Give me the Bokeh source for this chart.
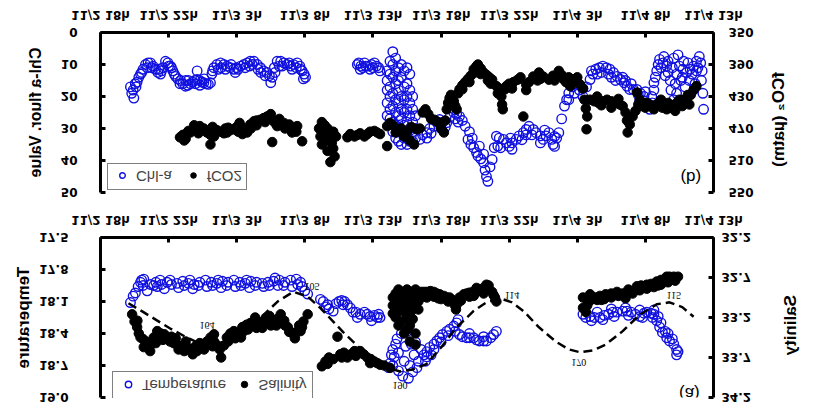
import math
from bokeh.plotting import figure
from bokeh.models import (Range1d, LinearAxis, FixedTicker, Legend, LegendItem,
                          ColumnDataSource, InlineStyleSheet, Label, NumeralTickFormatter)
from bokeh.layouts import column, row
from bokeh.embed import file_html
from bokeh.resources import INLINE
from bokeh.core.properties import value

# ---------------- data (hours since 11/2 18h) ----------------
x_ticks = [0, 4.8, 9.6, 14.4, 19.2, 24.0, 28.8, 33.6, 38.4, 43.2]
x_tick_labels = ["11/2 18h", "11/2 22h", "11/3 3h", "11/3 8h", "11/3 13h",
                 "11/3 18h", "11/3 22h", "11/4 3h", "11/4 8h", "11/4 13h"]
temp_ticks = [17.5, 17.8, 18.1, 18.4, 18.7, 19.0]
sal_ticks = [32.2, 32.7, 33.2, 33.7, 34.2]
chl_ticks = [0, 10, 20, 30, 40, 50]
fco2_ticks = [350, 390, 430, 470, 510, 550]

temp_pts = [(2.11,18.11),(2.3,18.05),(2.46,18.02),(2.65,17.96),(2.82,17.92),(3.0,17.95),(3.05,17.89),(3.29,18.0),(3.52,17.94),(3.75,17.95),(4.0,17.96),(4.3,17.94),(4.5,17.98),(4.7,17.92),(5.0,17.94),(5.4,17.93),(5.5,17.97),(5.8,17.91),(6.2,17.93),(6.5,17.98),(6.6,17.94),(7.0,17.92),(7.4,17.9),(7.5,17.96),(7.8,17.92),(8.2,17.93),(8.5,17.97),(8.6,17.91),(9.0,17.92),(9.4,17.9),(9.5,17.96),(9.8,17.92),(10.2,17.93),(10.5,17.97),(10.6,17.91),(11.0,17.92),(11.4,17.93),(11.5,17.96),(11.8,17.92),(12.2,17.91),(12.5,17.95),(12.6,17.9),(13.0,17.92),(13.4,17.9),(13.5,17.96),(13.8,17.89),(14.1,17.92),(14.2,17.96),(14.4,18.0),(14.6,18.03),
    (2.9,17.9),(3.9,17.92),(4.9,17.9),(5.9,17.95),(6.9,17.95),(7.9,17.95),(8.9,17.95),(9.9,17.95),(10.9,17.95),(11.9,17.95),(12.9,17.95),(13.9,17.94),(4.2,17.9),(6.3,17.9),(8.3,17.9),(10.3,17.9),(12.3,17.88),
    (15.5,18.08),(15.7,18.1),(15.9,18.15),(16.0,18.13),(16.1,18.17),(16.4,18.19),(16.6,18.12),(16.8,18.1),(17.0,18.09),(17.1,18.13),(17.2,18.1),(17.4,18.13),(17.6,18.16),(17.8,18.2),(18.0,18.2),(18.1,18.25),(18.3,18.22),(18.6,18.2),(18.8,18.22),(19.0,18.24),(19.1,18.28),(19.3,18.23),(19.5,18.25),(19.6,18.22),(19.7,18.25),
    (20.3,18.72),(20.4,18.68),(20.5,18.6),(20.6,18.55),(20.6,18.7),(20.7,18.62),(20.8,18.5),(20.9,18.45),(21.0,18.58),(21.0,18.75),(21.2,18.4),(21.3,18.8),(21.4,18.66),(21.5,18.52),(21.6,18.38),(21.7,18.82),(21.8,18.7),(21.9,18.5),(22.0,18.76),(22.1,18.6),(22.2,18.48),(22.3,18.72),(22.4,18.66),(22.6,18.55),(22.8,18.6),(22.9,18.66),
    (23.0,18.57),(23.0,18.62),(23.2,18.53),(23.3,18.6),(23.5,18.5),(23.5,18.55),(23.7,18.47),(23.9,18.44),(24.0,18.48),(24.1,18.41),(24.4,18.38),(24.5,18.42),(24.6,18.36),(24.9,18.33),(25.0,18.38),(25.1,18.3),(25.2,18.27),(25.3,18.41),(25.5,18.43),(25.8,18.44),(26.0,18.44),(26.0,18.4),(26.3,18.44),(26.5,18.46),(26.7,18.47),(27.0,18.47),(27.0,18.43),(27.2,18.47),(27.5,18.44),(27.7,18.41),(27.9,18.38),
    (34.0,18.22),(34.2,18.25),(34.5,18.24),(34.6,18.28),(34.8,18.25),(35.0,18.2),(35.2,18.25),(35.4,18.27),(35.5,18.23),(35.8,18.22),(36.0,18.17),(36.1,18.2),(36.2,18.24),(36.4,18.2),(36.8,18.19),(37.0,18.16),(37.1,18.19),(37.2,18.23),(37.4,18.2),(37.7,18.22),(38.0,18.24),(38.0,18.18),(38.2,18.25),(38.3,18.21),(38.5,18.2),(38.8,18.21),(38.9,18.25),(39.0,18.22),(39.0,18.18),(39.2,18.28),(39.3,18.24),(39.4,18.34),(39.5,18.3),(39.6,18.39),(39.8,18.38),(39.9,18.44),(40.0,18.4),(40.1,18.47),(40.3,18.45),(40.4,18.5),(40.6,18.55),(40.6,18.6),(40.7,18.57)]

sal_pts = [(2.23,33.16),(2.4,33.25),(2.58,33.32),(2.6,33.24),(2.7,33.4),(2.82,33.45),(3.0,33.47),(3.05,33.57),(3.2,33.5),(3.3,33.56),(3.5,33.62),(3.52,33.54),(3.75,33.45),(3.9,33.52),(4.0,33.37),(4.0,33.47),(4.25,33.4),(4.4,33.48),(4.5,33.41),(4.7,33.46),(4.9,33.5),(5.0,33.44),(5.15,33.52),(5.3,33.46),(5.4,33.54),(5.5,33.6),(5.7,33.56),(5.9,33.62),(6.0,33.5),(6.1,33.57),(6.4,33.6),(6.5,33.66),(6.7,33.56),(6.8,33.62),(7.0,33.52),(7.1,33.58),(7.3,33.6),(7.5,33.5),(7.75,33.45),(7.9,33.56),(8.0,33.41),(8.0,33.5),(8.25,33.55),(8.4,33.6),(8.5,33.7),(8.7,33.55),(8.9,33.45),(9.0,33.5),(9.15,33.4),(9.3,33.42),(9.4,33.37),(9.5,33.46),(9.65,33.41),(9.8,33.38),(9.9,33.45),(10.0,33.32),(10.1,33.37),(10.3,33.29),(10.4,33.35),(10.55,33.27),(10.8,33.25),(10.9,33.2),(11.0,33.33),(11.05,33.27),(11.3,33.29),(11.4,33.33),(11.5,33.24),(11.7,33.2),(11.9,33.18),(11.95,33.24),(12.0,33.3),(12.2,33.29),(12.4,33.3),(12.45,33.22),(12.7,33.16),(12.8,33.24),(12.95,33.24),(13.0,33.3),(13.2,33.32),(13.3,33.38),(13.4,33.38),(13.6,33.41),(13.7,33.46),(13.85,33.38),(14.0,33.3),(14.1,33.37),(14.2,33.32),(14.3,33.25),(14.6,33.16),
    (15.6,33.81),(15.85,33.75),(16.0,33.78),(16.1,33.7),(16.4,33.72),(16.7,33.44),(16.9,33.66),(17.0,33.7),(17.15,33.64),(17.4,33.7),(17.65,33.66),(17.9,33.62),(18.0,33.68),(18.1,33.63),(18.3,33.62),(18.55,33.66),(18.8,33.7),(19.0,33.77),(19.05,33.72),(19.3,33.75),(19.5,33.77),(19.7,33.79),(20.0,33.8),(20.4,33.83),
    (20.6,32.95),(20.6,33.05),(20.6,33.15),(20.8,32.9),(20.8,33.0),(20.8,33.1),(20.8,33.2),(21.0,32.85),(21.0,32.95),(21.0,33.05),(21.0,33.3),(21.2,32.9),(21.2,33.0),(21.2,33.12),(21.2,33.25),(21.4,32.88),(21.4,32.98),(21.4,33.1),(21.4,33.4),(21.6,32.85),(21.6,32.95),(21.6,33.05),(21.6,33.2),(21.6,33.35),(21.8,32.9),(21.8,33.0),(21.8,33.15),(21.8,33.3),(21.8,33.5),(22.0,32.88),(22.0,33.0),(22.0,33.1),(22.0,33.22),(22.2,32.85),(22.2,32.95),(22.2,33.05),(22.2,33.4),(22.2,33.54),(22.4,32.9),(22.4,33.0),(22.4,33.1),(22.6,32.88),(22.6,32.95),
    (22.8,32.88),(23.0,32.88),(23.0,32.95),(23.25,32.87),(23.5,32.88),(23.5,32.94),(23.7,32.9),(23.8,32.96),(23.9,32.91),(24.0,32.97),(24.2,32.93),(24.4,32.95),(24.5,33.0),(24.6,32.95),(24.8,32.98),(24.95,33.04),(25.0,33.0),(25.05,33.1),(25.1,33.04),(25.3,32.95),(25.4,32.99),(25.6,32.91),(25.8,32.9),(26.0,32.89),(26.0,32.94),(26.25,32.88),(26.3,32.93),(26.5,32.88),(26.5,32.83),(26.75,32.85),(27.0,32.83),(27.0,32.9),(27.1,32.86),(27.2,32.79),(27.35,32.8),(27.6,32.88),(27.7,32.92),(27.8,32.95),(27.9,33.0),
    (34.0,32.95),(34.0,33.08),(34.2,33.13),(34.3,33.05),(34.4,33.0),(34.5,32.91),(34.5,32.99),(34.7,32.95),(34.9,32.95),(35.0,32.98),(35.2,32.93),(35.3,32.98),(35.5,32.97),(35.6,32.91),(36.0,32.9),(36.0,32.95),(36.2,32.92),(36.4,32.88),(36.5,32.93),(36.8,32.9),(37.0,32.96),(37.1,32.91),(37.2,32.85),(37.4,32.87),(37.5,32.9),(37.8,32.81),(38.0,32.86),(38.1,32.8),(38.3,32.83),(38.5,32.79),(38.5,32.84),(38.8,32.78),(39.0,32.82),(39.2,32.75),(39.3,32.8),(39.5,32.73),(39.5,32.79),(39.9,32.69),(40.0,32.76),(40.1,32.69),(40.3,32.72),(40.4,32.69),(40.5,32.74),(40.7,32.69)]

tide_pts = [(1.97,119),(3.0,128),(4.0,137),(5.0,146),(6.0,154),(7.0,161),(7.8,164),(8.8,161),(9.8,152),(10.7,140),(11.5,131),(12.5,117),(13.6,107),(14.6,112),(15.5,124),(16.4,138),(17.1,149),(17.8,159),(18.8,173),(19.8,184),(21.1,190),(22.0,188),(23.0,182),(24.0,165),(25.1,144),(26.3,127),(27.2,118),(28.2,114),(29.0,118),(29.8,127),(30.9,144),(32.1,159),(33.0,167),(33.8,170),(34.7,168),(35.6,162),(36.8,148),(38.0,131),(39.2,120),(40.1,118),(41.0,123),(41.8,133)]
tide_labels = [(7.5,142,"164"),(14.9,101.5,"105"),(21.1,204.6,"190"),(29.0,111,"114"),(33.7,180.7,"170"),(40.4,111,"115")]

chl_pts = [(2.11,17),(2.2,19),(2.3,18),(2.35,20.5),(2.45,16),(2.5,17),(2.58,15.5),(2.7,14),(2.82,13),(2.9,12.5),(3.0,11.5),(3.17,10),(3.3,11),(3.35,9.5),(3.52,9.5),(3.6,11),(3.7,10.5),(3.88,11.5),(4.05,12.5),(4.1,11.5),(4.23,13),(4.3,12),(4.4,11),(4.58,9),(4.75,9.5),(4.8,10.5),(4.93,10.5),(5.0,11),(5.1,12),(5.2,13),(5.29,13.7),(5.45,14.5),(5.6,16),(5.64,15),(5.8,16),(5.99,16.8),(6.0,15),(6.15,16.5),(6.2,15),(6.34,16),(6.5,15.5),(6.65,15),(6.7,16),(6.81,14.7),(6.81,12),(7.0,15),(7.0,16.5),(7.15,15.5),(7.28,15.7),(7.3,14.5),(7.45,16),(7.6,16.2),(7.75,15.7),(7.85,13),(7.9,12),(7.99,11),(8.2,10),(8.3,11.5),(8.46,9.5),(8.5,11),(8.7,10),(8.8,11.5),(8.93,10.5),(9.15,11),(9.2,10),(9.4,11.5),(9.5,12.5),(9.6,11),(9.7,11.5),(9.87,10.5),(10.1,10),(10.2,11),(10.34,9.5),(10.5,10.5),(10.55,9),(10.7,10),(10.81,9),(11.05,10),(11.1,11.5),(11.27,11),(11.3,12.5),(11.5,12),(11.6,13.5),(11.74,12.5),(11.9,13.5),(12.0,15.7),(12.1,14),(12.25,11),(12.3,12.5),(12.45,9),(12.6,10.5),(12.7,9),(12.8,10.5),(12.92,9.5),(13.15,10),(13.3,9.5),(13.39,10.5),(13.5,11.5),(13.6,10),(13.8,11),(13.86,9.5),(14.05,10.5),(14.1,11.5),(14.21,12),(14.3,14.5),(14.35,13),(14.45,14),
    (18.1,10),(18.2,9.5),(18.3,11.5),(18.35,10.5),(18.5,11),(18.6,9.5),(18.7,10.5),(18.9,10.5),(19.0,11.5),(19.1,10),(19.2,11),(19.3,9.5),(19.45,10.5),(19.6,11),(19.7,12),
    (20.2,12),(20.2,15),(20.2,18),(20.2,22),(20.2,26),(20.4,9),(20.4,13),(20.4,17),(20.4,20),(20.4,24),(20.4,27),(20.6,6),(20.6,10),(20.6,14),(20.6,19),(20.6,23),(20.6,28),(20.6,31),(20.8,8),(20.8,12),(20.8,16),(20.8,21),(20.8,25),(20.8,29),(20.8,33),(21.0,11),(21.0,15),(21.0,18),(21.0,22),(21.0,26),(21.0,30),(21.0,34),(21.2,10),(21.2,14),(21.2,20),(21.2,24),(21.2,27),(21.2,31),(21.2,35),(21.4,12),(21.4,17),(21.4,21),(21.4,25),(21.4,29),(21.4,33),(21.6,11),(21.6,16),(21.6,20),(21.6,24),(21.6,28),(21.6,32),(21.6,35),(21.8,13),(21.8,18),(21.8,22),(21.8,26),(21.8,30),(21.8,34),(22.0,20),(22.0,24),(22.0,28),(22.0,31),(22.0,34),(22.2,26),(22.2,30),(22.2,33),
    (22.5,33.4),(22.7,32),(23.0,31.3),(23.0,33),(23.2,30),(23.3,31.5),(23.5,29.3),(23.7,28),(23.9,27.2),(24.0,30),(24.1,28),(24.3,29.5),(24.4,28.2),(24.6,26.5),(24.9,25),(25.0,27),(25.1,25.5),(25.2,28),(25.3,26.2),(25.5,27.5),(25.7,29.3),(25.9,33.4),(26.0,31),(26.1,35),(26.2,33),(26.3,36),(26.5,37.5),(26.6,38.6),(26.7,35.5),(26.8,39.5),(27.0,40.7),(27.0,38),(27.1,43),(27.2,45),(27.3,46.5),(27.45,42),(27.6,39.7),(27.75,36),(27.9,32.4),(28.0,35.5),(28.1,33),(28.2,36),(28.4,33.4),(28.6,34.5),(28.8,35.6),(28.9,33),(29.0,34.5),(29.0,36.5),(29.3,33.4),(29.5,32.3),(29.7,33.5),(29.8,31.3),(30.0,30.3),(30.0,32),(30.2,29.3),(30.4,32),(30.5,30.3),(30.7,31.3),(31.0,32.3),(31.0,34.5),(31.2,33.4),(31.3,30.5),(31.4,32.3),(31.6,31.3),(31.8,33.4),(31.9,35),(32.0,35.6),(32.0,32.5),(32.15,33),(32.3,31.3),(32.5,27),(32.7,23),(32.85,21),(33.0,18.9),(33.0,21),(33.1,16.5),(33.25,17),(33.4,19),(33.5,15.7),(33.75,18),(34.0,20),(34.0,17.5),(34.25,17),(34.5,14.7),(34.6,12),(34.7,13),(34.9,11.5),(35.0,13),(35.15,11),(35.3,12.5),(35.4,10.5),(35.65,11),(35.8,13),(35.9,11.5),(36.0,14),(36.15,12.5),(36.3,15),(36.4,13.7),(36.65,14.7),(36.8,14),(36.9,15.7),(37.0,15),(37.1,16.8),(37.3,17.8),(37.4,16),(37.55,17.8),(37.8,17.8),(37.9,19.5),(38.0,21.5),(38.05,19),(38.3,20),(38.4,18.5),(38.5,22),(38.7,24),(38.85,20),(38.9,22),(39.0,15.7),(39.0,18),(39.1,14),(39.2,12),(39.3,10),(39.4,8.4),(39.5,11),(39.65,9.5),(39.7,7.5),(39.8,13.5),(39.9,10.5),(40.0,12.5),(40.0,9),(40.15,15),(40.2,18),(40.3,11),(40.4,21),(40.4,8),(40.5,16),(40.6,13),(40.6,19),(40.7,7),(40.8,10.5),(40.9,15),(41.0,14),(41.05,11.5),(41.1,9),(41.2,17),(41.3,12.5),(41.4,9.5),(41.5,15),(41.55,11.5),(41.7,13),(41.8,10.5),(41.9,16),(42.0,9),(42.0,12),(42.1,11),(42.2,7.5),(42.3,9.5),(42.35,15),(42.4,12),(42.45,19),(42.5,24)]

fco2_pts = [(5.6,481),(5.8,478),(5.9,485),(6.0,477),(6.0,483),(6.2,473),(6.34,475),(6.5,471),(6.6,466),(6.81,469),(6.9,476),(7.0,467),(7.0,473),(7.28,470),(7.5,475),(7.75,478),(7.75,490),(7.9,468),(8.0,474),(8.0,480),(8.2,472),(8.46,474),(8.7,476),(8.8,470),(8.93,475),(9.0,469),(9.15,472),(9.4,471),(9.6,468),(9.7,474),(9.8,463),(9.87,467),(10.0,477),(10.1,472),(10.34,475),(10.55,465),(10.6,470),(10.81,461),(11.0,460),(11.0,466),(11.27,459),(11.5,457),(11.6,462),(11.74,455),(11.9,458),(12.0,452),(12.1,459),(12.1,487),(12.3,463),(12.45,467),(12.6,458),(12.7,464),(12.92,463),(13.0,470),(13.15,468),(13.3,465),(13.39,471),(13.5,475),(13.6,469),(13.8,474),(13.86,467),(14.21,486),
    (15.4,470),(15.5,480),(15.6,490),(15.6,462),(15.7,475),(15.8,466),(15.9,485),(16.0,498),(16.0,470),(16.1,478),(16.2,512),(16.3,488),(16.4,495),(16.4,474),(16.5,505),(16.6,480),
    (17.4,481),(17.6,477),(17.9,480),(18.1,478),(18.3,476),(18.6,480),(18.8,477),(19.0,474),(19.3,473),(19.5,475),(19.7,477),(20.2,467),(20.2,492),(20.4,463),(20.6,466),(20.8,475),(21.0,471),(21.2,470),(21.4,480),(21.6,474),(21.8,485),(21.9,468),(22.1,490),(22.3,471),(22.5,470),
    (22.7,450),(22.9,446),(23.1,452),(23.3,458),(23.5,459),(23.7,461),(23.9,463),(24.0,470),(24.2,475),(24.3,460),(24.4,446),(24.5,438),(24.6,432),(24.7,428),(24.9,436),(25.0,442),(25.1,446),(25.2,426),(25.3,421),(25.5,416),(25.5,421),(25.7,412),(25.9,408),(26.0,412),(26.1,404),(26.3,396),(26.4,400),(26.5,392),(26.6,390),(26.8,395),(26.8,402),(27.0,400),(27.2,403),(27.3,410),(27.4,406),(27.5,414),(27.6,409),(27.9,417),(28.0,426),(28.1,420),(28.25,430),(28.3,440),(28.35,446),(28.5,421),(28.6,417),(28.8,414),(29.0,420),(29.1,412),(29.4,409),(29.6,406),(29.8,455),(30.0,415),(30.0,422),(30.2,412),(30.5,405),(30.8,410),(30.9,400),(31.0,408),(31.2,405),(31.6,409),(31.9,404),(32.0,410),(32.3,398),(32.5,403),(32.6,408),(32.8,412),(33.0,406),(33.1,417),(33.4,412),(33.6,406),(33.8,415),(34.0,420),(34.1,434),(34.2,445),(34.25,471),(34.3,455),(34.5,434),(34.8,436),(35.0,430),(35.1,438),(35.3,441),(35.4,436),(35.7,434),(36.0,436),(36.0,444),(36.3,438),(36.5,433),(36.6,440),(36.8,442),(37.0,450),(37.1,460),(37.15,475),(37.3,465),(37.5,455),(37.7,448),(37.8,425),(37.9,440),(38.0,434),(38.1,442),(38.3,440),(38.4,444),(38.5,438),(38.7,440),(38.9,442),(39.0,446),(39.2,440),(39.4,438),(39.5,434),(39.6,444),(39.9,446),(40.0,438),(40.2,444),(40.4,442),(40.5,448),(40.6,438),(40.8,434),(41.0,442),(41.1,434),(41.3,434),(41.4,428),(41.5,440),(41.6,428),(41.8,422),(42.0,417)]

BLUE = "#1010e0"

def src(pts):
    return ColumnDataSource(dict(x=[p[0] for p in pts], y=[p[1] for p in pts]))

def style_axis(ax, standoff, title_standoff, title_size):
    ax.axis_line_width = 3
    ax.axis_line_color = "black"
    ax.major_tick_line_width = 3
    ax.major_tick_in = 5
    ax.major_tick_out = 0
    ax.minor_tick_line_color = None
    ax.major_label_text_font = "DejaVu Sans"
    ax.major_label_text_font_style = "bold"
    ax.major_label_text_font_size = "12px"
    ax.major_label_text_color = "black"
    ax.major_label_standoff = standoff
    ax.axis_label_text_font = "Liberation Sans"
    ax.axis_label_text_font_style = "bold"
    ax.axis_label_text_font_size = f"{title_size}px"
    ax.axis_label_text_color = "black"
    ax.axis_label_standoff = title_standoff

MAIN_W = 760   # main figure width; the right-hand axis titles sit in a strip beside it
STRIP_W = 816 - MAIN_W

def base_fig(height, top, bottom, yr):
    p = figure(width=MAIN_W, height=height, x_range=Range1d(0, 43.2), y_range=yr,
               output_backend="svg", toolbar_location=None,
               min_border_left=100, min_border_right=MAIN_W - 713,
               min_border_top=top, min_border_bottom=bottom)
    p.xgrid.visible = False
    p.ygrid.visible = False
    p.outline_line_color = None
    p.background_fill_color = "white"
    p.border_fill_color = "white"
    p.xaxis.ticker = FixedTicker(ticks=x_ticks)
    p.xaxis.major_label_overrides = dict(zip(x_ticks, x_tick_labels))
    style_axis(p.xaxis[0], 11, 0, 12)
    return p

def title_strip(height, text, x, y, size):
    s = figure(width=STRIP_W, height=height, x_range=Range1d(0, STRIP_W),
               y_range=Range1d(0, height), x_axis_type=None, y_axis_type=None,
               output_backend="svg", toolbar_location=None, min_border=0)
    s.outline_line_color = None
    s.xgrid.visible = False
    s.ygrid.visible = False
    s.background_fill_color = "white"
    s.border_fill_color = "white"
    s.text(x=[x], y=[y], text=[text], angle=math.pi / 2,
           text_align="center", text_baseline="middle",
           text_font=value("Liberation Sans"), text_font_style="bold",
           text_font_size=f"{size}px", text_color="black")
    return s

# ---------------- panel (a): temperature / salinity ----------------
pa = base_fig(208, 16, 32, Range1d(17.5, 19.0))
pa.extra_y_ranges = {"sal": Range1d(32.2, 34.2), "tide": Range1d(50.5, 217.1)}
pa.yaxis.ticker = FixedTicker(ticks=temp_ticks)
pa.yaxis.formatter = NumeralTickFormatter(format="0.0")
pa.yaxis.axis_label = "Temperature"
style_axis(pa.yaxis[0], 32, 3, 17)
ax_sal = LinearAxis(y_range_name="sal", ticker=FixedTicker(ticks=sal_ticks),
                    formatter=NumeralTickFormatter(format="0.0"))
style_axis(ax_sal, 8, 0, 17)
pa.add_layout(ax_sal, "right")

r_temp = pa.scatter("x", "y", source=src(temp_pts), size=9.5, marker="circle",
                    fill_color=None, line_color=BLUE, line_width=1.4)
pa.line("x", "y", source=src(tide_pts), y_range_name="tide", line_color="black",
        line_width=2.5, line_dash="9 5")
r_sal = pa.scatter("x", "y", source=src(sal_pts), y_range_name="sal", size=9.5,
                   marker="circle", fill_color="black", line_color="black")
pa.text(x=[t[0] for t in tide_labels], y=[t[1] for t in tide_labels],
        text=[t[2] for t in tide_labels], y_range_name="tide",
        text_font=value("Liberation Serif"), text_font_size="10px",
        text_align="center", text_baseline="middle", text_color="black")
pa.add_layout(Label(x=41.5, y=18.96, text="(a)", text_align="center",
                    text_baseline="middle", text_font="Liberation Sans",
                    text_font_size="17px", text_color="black"))
leg_a = Legend(items=[LegendItem(label="Temperature", renderers=[r_temp]),
                      LegendItem(label="Salinity", renderers=[r_sal])],
               location=(12, 133), orientation="horizontal",
               padding=5, spacing=8, glyph_width=20, glyph_height=16,
               label_height=16, label_standoff=4, margin=0,
               label_text_font="Liberation Sans", label_text_font_size="15px",
               border_line_color="black", border_line_width=1,
               background_fill_color="white", background_fill_alpha=1)
pa.add_layout(leg_a, "center")
sa = title_strip(208, "Salinity", 790 - MAIN_W, 114, 17)

# ---------------- panel (b): Chl-a / fCO2 ----------------
pb = base_fig(206, 13, 33, Range1d(0, 50))
pb.extra_y_ranges = {"fco2": Range1d(350, 550)}
pb.yaxis.ticker = FixedTicker(ticks=chl_ticks)
pb.yaxis.formatter = NumeralTickFormatter(format="0")
pb.yaxis.axis_label = "Chl-a fluor. Value"
style_axis(pb.yaxis[0], 23, 14, 16)
ax_f = LinearAxis(y_range_name="fco2", ticker=FixedTicker(ticks=fco2_ticks),
                  formatter=NumeralTickFormatter(format="0"))
style_axis(ax_f, 15, 0, 17)
pb.add_layout(ax_f, "right")

r_chl = pb.scatter("x", "y", source=src(chl_pts), size=9.5, marker="circle",
                   fill_color=None, line_color=BLUE, line_width=1.4)
r_f = pb.scatter("x", "y", source=src(fco2_pts), y_range_name="fco2", size=9.5,
                 marker="circle", fill_color="black", line_color="black")
pb.add_layout(Label(x=41.6, y=45.2, text="(b)", text_align="center",
                    text_baseline="middle", text_font="Liberation Sans",
                    text_font_size="17px", text_color="black"))
leg_b = Legend(items=[LegendItem(label="Chl-a", renderers=[r_chl]),
                      LegendItem(label="fCO2", renderers=[r_f])],
               location=(7, 130), orientation="horizontal",
               padding=4, spacing=11, glyph_width=20, glyph_height=14,
               label_height=14, label_standoff=4, margin=0,
               label_text_font="Liberation Sans", label_text_font_size="15px",
               border_line_color="black", border_line_width=1,
               background_fill_color="white", background_fill_alpha=1)
pb.add_layout(leg_b, "center")
sb = title_strip(206, "fCO\u2082 (\u00b5atm)", 778 - MAIN_W, 112, 17)

flip = InlineStyleSheet(css=":host { transform: scaleY(-1); transform-origin: 50% 50%; }")
layout = column(row(pa, sa, spacing=0), row(pb, sb, spacing=0), spacing=0,
                stylesheets=[flip])

open("out.html", "w").write(file_html(layout, INLINE))
